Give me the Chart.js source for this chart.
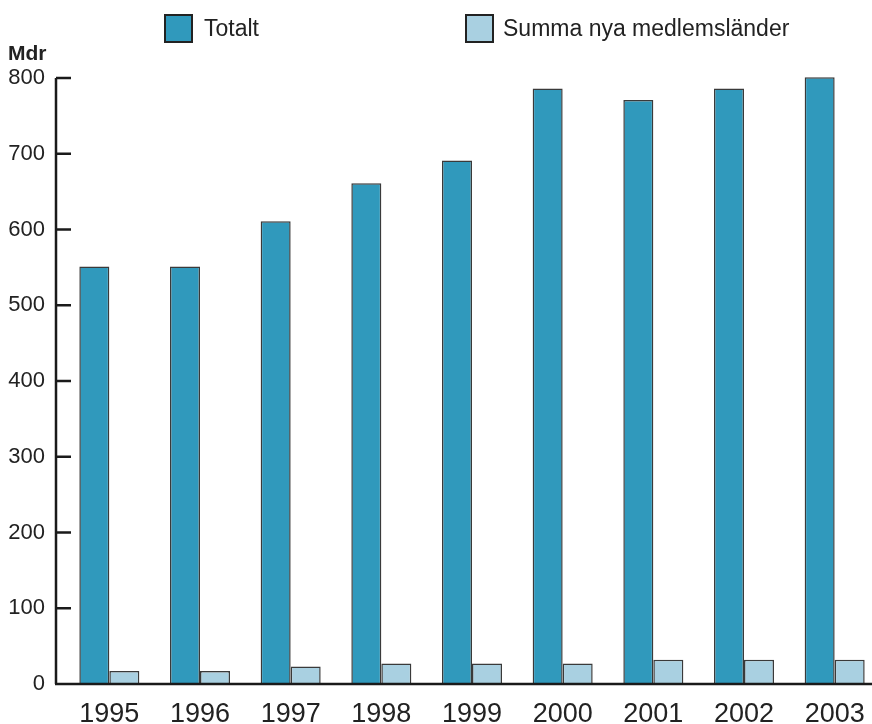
<!DOCTYPE html>
<html>
<head>
<meta charset="utf-8">
<script src="https://cdn.jsdelivr.net/npm/chart.js@4"></script>
<style>
  html, body { margin: 0; padding: 0; background: #fff; overflow: hidden; width: 872px; height: 724px; }
  #wrap { position: relative; width: 880px; height: 724px; }
  canvas { position: absolute; left: 0; top: 0; }
  .lbl { position: absolute; font-family: "Liberation Sans", Arial, sans-serif; color: #222; line-height: 1; white-space: nowrap; }
  .box { position: absolute; width: 29px; height: 29px; box-sizing: border-box; border: 2.5px solid #222; }
</style>
</head>
<body>
<div id="wrap">
  <canvas id="chart" width="880" height="724"></canvas>
  <div class="box" style="left:164px; top:14px; background:#3099bc;"></div>
  <div class="lbl" style="left:204px; top:17px; font-size:23px;">Totalt</div>
  <div class="box" style="left:465px; top:14px; background:#a9d0e1;"></div>
  <div class="lbl" style="left:503px; top:17px; font-size:23px;">Summa nya medlemsländer</div>
  <div class="lbl" style="left:8px; top:42px; font-size:21px; font-weight:bold;">Mdr</div>
</div>
<script>
const years = ["1995", "1996", "1997", "1998", "1999", "2000", "2001", "2002", "2003"];
const totalt = [551, 551, 611, 661, 691, 786, 771, 786, 801];
const nyaMedlemslander = [17, 17, 23, 27, 27, 27, 32, 32, 32];
const yTicks = [0, 100, 200, 300, 400, 500, 600, 700, 800];

// draws the y axis with inward ticks and the x axis line
const axisLines = {
  id: "axisLines",
  afterDatasetsDraw(chart) {
    const { ctx, chartArea, scales } = chart;
    const y = scales.y;
    const x0 = chartArea.left - 8;
    const yZero = y.getPixelForValue(0);
    const yTop = y.getPixelForValue(800);
    ctx.save();
    ctx.strokeStyle = "#1a1a1a";
    ctx.lineWidth = 2.5;
    ctx.beginPath();
    ctx.moveTo(x0, yTop);
    ctx.lineTo(x0, yZero);
    ctx.moveTo(x0 - 1, yZero);
    ctx.lineTo(880, yZero);
    yTicks.slice(1).forEach((v) => {
      const py = y.getPixelForValue(v);
      ctx.moveTo(x0, py);
      ctx.lineTo(x0 + 15, py);
    });
    ctx.stroke();
    ctx.restore();
  },
};

new Chart(document.getElementById("chart"), {
  type: "bar",
  data: {
    labels: years,
    datasets: [
      {
        label: "Totalt",
        data: totalt,
        backgroundColor: "#3099bc",
        borderColor: "#3a3a3a",
        borderWidth: 1.5,
        clip: false,
      },
      {
        label: "Summa nya medlemsländer",
        data: nyaMedlemslander,
        backgroundColor: "#a9d0e1",
        borderColor: "#3a3a3a",
        borderWidth: 1.5,
        clip: false,
      },
    ],
  },
  options: {
    responsive: false,
    animation: false,
    layout: { padding: { top: 78, left: 0, right: 0, bottom: 0 } },
    categoryPercentage: 0.662,
    barPercentage: 1,
    plugins: { legend: { display: false }, tooltip: { enabled: false } },
    scales: {
      x: {
        grid: { display: false, drawTicks: false },
        border: { display: false },
        ticks: {
          color: "#222",
          padding: 14,
          font: { family: "Liberation Sans", size: 27 },
        },
        afterFit(scale) { scale.height = 40; },
      },
      y: {
        min: 0,
        max: 800,
        grid: { display: false, drawTicks: false },
        border: { display: false },
        ticks: {
          stepSize: 100,
          color: "#222",
          padding: 19,
          font: { family: "Liberation Sans", size: 22 },
        },
        afterFit(scale) { scale.width = 64; },
      },
    },
  },
  plugins: [axisLines],
});
</script>
</body>
</html>
